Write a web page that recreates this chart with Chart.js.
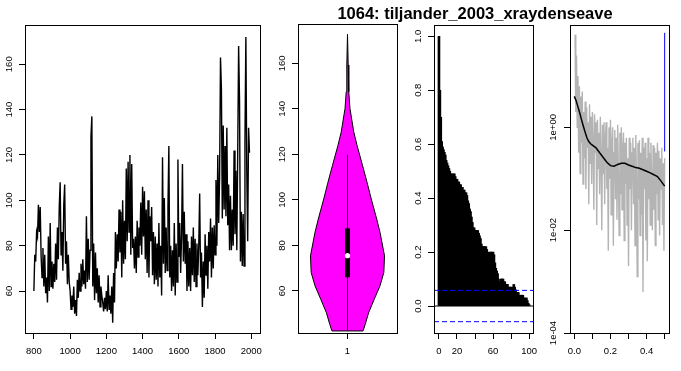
<!DOCTYPE html>
<html>
<head>
<meta charset="utf-8">
<script src="https://cdn.jsdelivr.net/npm/chart.js@4/dist/chart.umd.min.js"></script>
<style>
body { margin: 0; background: #fff; }
#wrap { position: relative; width: 681px; height: 371px; }
#wrap canvas { position: absolute; left: 0; top: 0; }
#title { position: absolute; top: 3px; left: 475px; transform: translateX(-50%);
  font: bold 16.5px "Liberation Sans", Arial, sans-serif; line-height: 20px; white-space: nowrap; }
</style>
</head>
<body>
<div id="wrap">
  <canvas id="seriesChart" width="681" height="371"></canvas>
  <canvas id="violinChart" width="681" height="371"></canvas>
  <canvas id="acfChart" width="681" height="371"></canvas>
  <canvas id="specChart" width="681" height="371"></canvas>
  <div id="title">1064: tiljander_2003_xraydenseave</div>
</div>
<script>
// time series, one value every 5 years from 800
const firstYear = 800;
const yearStep = 5;
const seriesValues = [
  60, 76, 73, 86, 84, 98, 86, 97, 75, 66,
  79, 62, 76, 59, 66, 55, 84, 60, 90, 62,
  73, 61, 72, 64, 81, 65, 88, 74, 97, 108,
  76, 86, 69, 98, 107, 72, 82, 63, 76, 64,
  60, 52, 58, 53, 62, 50, 56, 49, 65, 57,
  68, 60, 72, 62, 74, 63, 69, 61, 93, 64,
  83, 65, 78, 128, 137, 62, 81, 56, 77, 59,
  70, 55, 67, 53, 62, 58, 55, 51, 57, 52,
  60, 51, 67, 52, 58, 50, 62, 46, 68, 55,
  86, 70, 85, 73, 96, 77, 95, 66, 100, 72,
  91, 74, 114, 82, 117, 86, 120, 76, 116, 79,
  83, 70, 84, 68, 91, 75, 88, 80, 99, 76,
  106, 84, 104, 74, 96, 68, 100, 66, 93, 82,
  97, 67, 86, 63, 84, 65, 81, 62, 90, 66,
  80, 58, 119, 72, 101, 68, 88, 69, 97, 124,
  66, 80, 60, 78, 62, 90, 58, 81, 64, 118,
  75, 90, 68, 84, 116, 73, 95, 72, 85, 60,
  82, 62, 79, 60, 84, 67, 88, 64, 83, 62,
  81, 67, 80, 103, 66, 77, 53, 73, 57, 85,
  67, 80, 61, 86, 73, 92, 66, 88, 70, 89,
  76, 109, 80, 120, 90, 110, 163, 149, 92, 133,
  96, 124, 93, 132, 89, 107, 78, 102, 78, 96,
  80, 122, 85, 113, 78, 121, 168, 144, 73, 95,
  71, 94, 71, 126, 172, 113, 82, 132, 121
];
const seriesYTicks = [60, 80, 100, 120, 140, 160];
const seriesXTicks = [800, 1000, 1200, 1400, 1600, 1800, 2000];

// violin outline: level and half width (in x units)
const violinLevels = [42.4, 45.3, 50.5, 56.3, 62.2, 68.1, 75.4, 85.8, 91.6, 100.4, 107.8, 115.1, 124, 129.9, 140.2, 147.5, 159.3, 172.8];
const violinHalfWidths = [0.157, 0.179, 0.214, 0.27, 0.328, 0.367, 0.374, 0.328, 0.295, 0.24, 0.197, 0.152, 0.096, 0.063, 0.025, 0.013, 0.007, 0];
// low whisker, q1, median, q3, high whisker
const boxStats = [42.4, 66, 75.5, 87.5, 119.8];

// autocorrelation, lags 0..100
const acfValues = [
  1.0, 0.80, 0.70, 0.61, 0.59, 0.58, 0.57, 0.56, 0.54, 0.53,
  0.52, 0.51, 0.50, 0.49, 0.49, 0.48, 0.49, 0.49, 0.48, 0.47,
  0.47, 0.46, 0.46, 0.45, 0.45, 0.44, 0.44, 0.43, 0.43, 0.42,
  0.42, 0.41, 0.39, 0.38, 0.36, 0.35, 0.33, 0.31, 0.29, 0.29,
  0.28, 0.28, 0.28, 0.28, 0.27, 0.26, 0.25, 0.23, 0.22, 0.22,
  0.22, 0.22, 0.22, 0.21, 0.20, 0.19, 0.19, 0.20, 0.20, 0.19,
  0.20, 0.19, 0.16, 0.14, 0.13, 0.12, 0.10, 0.09, 0.09, 0.10,
  0.10, 0.10, 0.09, 0.09, 0.08, 0.08, 0.08, 0.07, 0.07, 0.07,
  0.07, 0.06, 0.07, 0.08, 0.07, 0.06, 0.05, 0.05, 0.05, 0.04,
  0.03, 0.04, 0.04, 0.04, 0.03, 0.03, 0.02, 0.03, 0.02, 0.01,
  0.005
];
const acfLimit = 0.058;
const acfXTicks = [0, 20, 40, 60, 80, 100];
const acfXLabels = ['0', '20', '', '60', '', '100'];
const acfYTicks = [0, 0.2, 0.4, 0.6, 0.8, 1.0];

// spectrum at frequencies k/250, k = 1..125
const specValues = [
  63, 2.0, 25, 1.0, 10, 0.32, 6.3, 0.126, 4.0, 0.5,
  5.0, 0.079, 2.0, 0.25, 3.2, 0.063, 2.5, 0.4, 1.26, 0.032,
  2.8, 0.2, 1.6, 0.079, 2.0, 0.5, 0.025, 1.8, 0.32, 1.26,
  0.0126, 1.4, 0.16, 0.79, 0.05, 1.6, 0.25, 0.01, 1.12, 0.126,
  1.26, 0.032, 0.63, 1.26, 0.063, 0.4, 0.004, 1.0, 0.1, 1.4,
  0.02, 0.5, 1.0, 0.005, 0.32, 0.89, 0.04, 0.63, 0.016, 1.12,
  0.126, 0.0079, 0.79, 0.05, 1.0, 0.025, 0.4, 0.79, 0.0063, 0.5,
  0.079, 0.63, 0.0126, 0.25, 0.002, 0.63, 0.063, 0.5, 0.01, 0.32,
  0.63, 0.032, 0.4, 0.005, 0.71, 0.1, 0.00126, 0.5, 0.04, 0.56,
  0.0079, 0.32, 0.02, 0.63, 0.00063, 0.4, 0.063, 0.5, 0.0063, 0.25,
  0.0025, 0.63, 0.04, 0.32, 0.0126, 0.5, 0.079, 0.01, 0.45, 0.025,
  0.4, 0.005, 0.32, 0.05, 0.5, 0.016, 0.35, 0.0079, 0.25, 0.063,
  0.4, 0.0126, 0.2, 0.004, 0.25
];
const smoothFreq = [0, 0.01, 0.02, 0.03, 0.04, 0.05, 0.06, 0.07, 0.08, 0.09, 0.10, 0.12, 0.14, 0.16, 0.18, 0.20,
  0.22, 0.24, 0.26, 0.28, 0.30, 0.32, 0.34, 0.36, 0.38, 0.40, 0.42, 0.44, 0.46, 0.48, 0.50];
const smoothValues = [4.0, 3.3, 2.5, 1.9, 1.4, 1.05, 0.8, 0.62, 0.53, 0.48, 0.45, 0.40, 0.32, 0.26, 0.21, 0.18,
  0.175, 0.19, 0.20, 0.20, 0.185, 0.175, 0.165, 0.16, 0.15, 0.14, 0.13, 0.12, 0.11, 0.09, 0.072];
const ciBar = [0.34, 69];
const specXTicks = [0, 0.1, 0.2, 0.3, 0.4, 0.5];
const specXLabels = ['0.0', '', '0.2', '', '0.4', ''];
const specYTicks = [1e-4, 1e-2, 1];

const tickFont = { family: 'Liberation Sans', size: 9.5 };

const boxPlugin = {
    id: 'box',
    afterDraw(chart) {
        const a = chart.chartArea;
        const ctx = chart.ctx;
        ctx.save();
        ctx.strokeStyle = '#000';
        ctx.lineWidth = 1;
        ctx.strokeRect(a.left + 0.5, a.top + 0.5, a.right - a.left, a.bottom - a.top);
        ctx.restore();
    }
};

function makeAxis(vertical, min, max, tickValues, labelFn, pad, type) {
    return {
        type: type || 'linear',
        position: vertical ? 'left' : 'bottom',
        min: min,
        max: max,
        offset: false,
        grid: { display: true, drawOnChartArea: false, drawTicks: true, tickLength: 6, color: '#000', lineWidth: 1, offset: false },
        border: { display: false },
        ticks: {
            color: '#000',
            font: tickFont,
            autoSkip: false,
            padding: pad,
            minRotation: vertical ? 90 : 0,
            maxRotation: vertical ? 90 : 0,
            crossAlign: 'center',
            callback: labelFn
        },
        afterBuildTicks: s => { s.ticks = tickValues.map(v => ({ value: v })); },
        afterFit: s => { if (vertical) s.width = 20; else s.height = 30; }
    };
}

function padFor(box) {
    return { left: box[0] - 20, right: 681 - box[1], top: box[2], bottom: 371 - box[3] - 30 };
}

const baseOptions = (box, scales) => ({
    responsive: false,
    animation: false,
    events: [],
    layout: { padding: padFor(box) },
    plugins: { legend: { display: false }, tooltip: { enabled: false } },
    scales: scales
});

const xPad = 12;

// Panel 1: time series
new Chart(document.getElementById('seriesChart'), {
    type: 'line',
    data: {
        datasets: [{
            data: seriesValues.map((v, i) => ({ x: firstYear + i * yearStep, y: v })),
            borderColor: '#000',
            borderWidth: 1.4,
            pointRadius: 0,
            tension: 0
        }]
    },
    options: baseOptions([25, 260, 25, 333], {
        x: makeAxis(false, 751, 2048, seriesXTicks, v => String(v), xPad),
        y: makeAxis(true, 41.5, 177.3, seriesYTicks, v => String(v), 2.1)
    }),
    plugins: [boxPlugin]
});

// Panel 2: violin plot
const violinLeft = violinLevels.map((lv, i) => ({ x: 1 - violinHalfWidths[i], y: lv }));
const violinRight = violinLevels.map((lv, i) => ({ x: 1 + violinHalfWidths[i], y: lv })).reverse();
const violinShape = violinLeft.concat(violinRight, [violinLeft[0]]);

new Chart(document.getElementById('violinChart'), {
    type: 'scatter',
    data: {
        datasets: [
            { data: [{ x: 1, y: boxStats[2] }], pointRadius: 2.6, pointBackgroundColor: '#fff', pointBorderWidth: 0, showLine: false },
            { data: [{ x: 1, y: boxStats[1] }, { x: 1, y: boxStats[3] }], showLine: true, borderColor: '#000', borderWidth: 5, borderCapStyle: 'butt', pointRadius: 0 },
            { data: [{ x: 1, y: boxStats[0] }, { x: 1, y: boxStats[4] }], showLine: true, borderColor: '#000', borderWidth: 1, pointRadius: 0 },
            { data: violinShape, showLine: true, fill: 'shape', backgroundColor: '#ff00ff', borderColor: '#000', borderWidth: 1, pointRadius: 0, tension: 0 }
        ]
    },
    options: baseOptions([298, 397, 24, 333], {
        x: makeAxis(false, 0.5, 1.5, [1], v => String(v), xPad),
        y: makeAxis(true, 41.5, 177.3, seriesYTicks, v => String(v), 2.1)
    }),
    plugins: [boxPlugin]
});

// Panel 3: autocorrelation
const acfXMin = -5.5, acfXMax = 104.3;
new Chart(document.getElementById('acfChart'), {
    data: {
        datasets: [
            { type: 'line', data: [{ x: acfXMin, y: acfLimit }, { x: acfXMax, y: acfLimit }], borderColor: '#0000ff', borderWidth: 1, borderDash: [5, 3], pointRadius: 0 },
            { type: 'line', data: [{ x: acfXMin, y: -acfLimit }, { x: acfXMax, y: -acfLimit }], borderColor: '#0000ff', borderWidth: 1, borderDash: [5, 3], pointRadius: 0 },
            { type: 'line', data: [{ x: acfXMin, y: 0 }, { x: acfXMax, y: 0 }], borderColor: '#000', borderWidth: 1, pointRadius: 0 },
            { type: 'bar', data: acfValues.map((v, i) => ({ x: i, y: v })), backgroundColor: '#000', borderWidth: 0, barThickness: 2 }
        ]
    },
    options: baseOptions([434, 533, 25, 333], {
        x: makeAxis(false, acfXMin, acfXMax, acfXTicks, (v, i) => acfXLabels[i], xPad),
        y: makeAxis(true, -0.1, 1.042, acfYTicks, v => v.toFixed(1), 3.4)
    }),
    plugins: [boxPlugin]
});

// Panel 4: spectrum
const expLabel = v => {
    const e = Math.round(Math.log10(v));
    return '1e' + (e < 0 ? '-' : '+') + String(Math.abs(e)).padStart(2, '0');
};
new Chart(document.getElementById('specChart'), {
    type: 'line',
    data: {
        datasets: [
            { data: [{ x: 0.5, y: ciBar[0] }, { x: 0.5, y: ciBar[1] }], borderColor: '#0000ff', borderWidth: 1, pointRadius: 0 },
            { data: smoothFreq.map((f, i) => ({ x: f, y: smoothValues[i] })), borderColor: '#000', borderWidth: 1.5, pointRadius: 0, tension: 0 },
            { data: specValues.map((v, i) => ({ x: (i + 1) / 250, y: v })), borderColor: '#b4b4b4', borderWidth: 1.4, pointRadius: 0, tension: 0 }
        ]
    },
    options: baseOptions([570, 669, 25, 333], {
        x: makeAxis(false, -0.024, 0.524, specXTicks, (v, i) => specXLabels[i], xPad),
        y: makeAxis(true, 1e-4, 98, specYTicks, v => expLabel(v), -2.3, 'logarithmic')
    }),
    plugins: [boxPlugin]
});
</script>
</body>
</html>
